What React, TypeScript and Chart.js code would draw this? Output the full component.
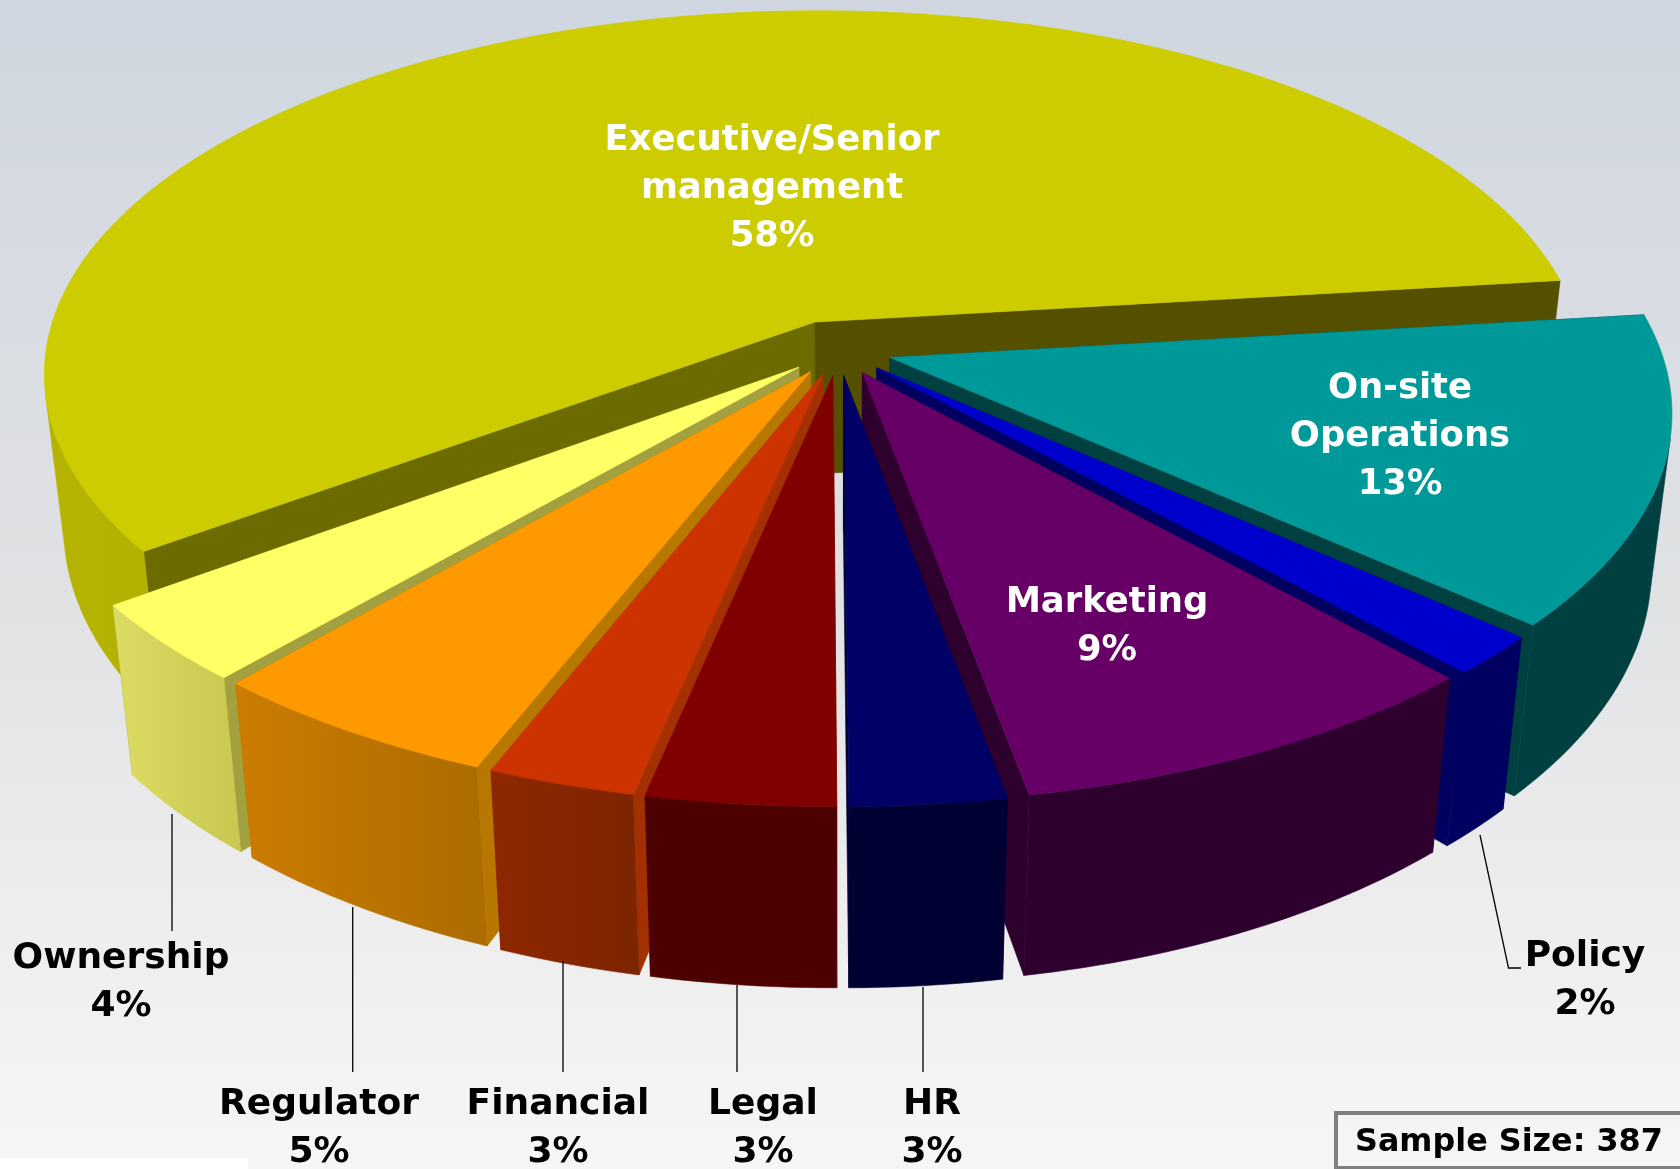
import React, { useEffect, useRef } from "react";
import { Chart, registerables } from "chart.js";

Chart.register(...registerables);

const categories = ["Executive/Senior management", "On-site Operations", "Policy", "Marketing", "HR", "Legal", "Financial", "Regulator", "Ownership"];
const shares = [58.2, 13.47, 1.71, 8.84, 2.8, 3.4, 2.67, 5.4, 3.5];
const sampleSize = 387;
const topColors = ["#CCCC00", "#009999", "#0000CC", "#660066", "#000066", "#800000", "#CC3300", "#FF9900", "#FFFF66"];
const rimLeftColors = ["#B5B300", "#004040", "#000060", "#2E002E", "#000033", "#4D0000", "#8E2700", "#CB7C00", "#DCDC64"];
const rimRightColors = ["#A8A600", "#004040", "#000060", "#2E002E", "#000033", "#4D0000", "#7C2500", "#AC6C00", "#C8C850"];
const cutStartColors = ["#6B6B00", "#004040", "#000060", "#2E002E", "#000033", "#A33000", "#A33000", "#B87800", "#A3A040"];
const cutEndColors = ["#545000", "#004040", "#000060", "#2E002E", "#000033", "#A33000", "#A33000", "#B87800", "#A3A040"];
const explodeOffsets = [47, 39, 39, 39, 39, 39, 39, 39, 39];
const paintOrder = [0, 1, 2, 3, 8, 7, 6, 4, 5];

// camera used to lay the pie on its plane
const cam = { cx: 838.5, cy: 350, a: 771, b: 362.6, k: 0.141, m: 0.025, b2: 374, c: 157.7 };
const project = (e: number, n: number, z: number): [number, number] => {
  const w = 1 + cam.k * n + cam.m * z;
  const b = z ? cam.b2 : cam.b;
  return [cam.cx + (cam.a * e) / w, cam.cy + (-b * n + cam.c * z) / w];
};

const FONT = '"DejaVu Sans", Verdana, sans-serif';

type Lbl = { lines: string[]; x: number; y: number; color: string; size: number };
const labelLayout: Lbl[] = [
  { lines: ["Executive/Senior", "management"], x: 772, y: 141, color: "#fff", size: 35.4 },
  { lines: ["On-site", "Operations"], x: 1400, y: 388.5, color: "#fff", size: 35.4 },
  { lines: ["Policy"], x: 1585, y: 957, color: "#000", size: 36 },
  { lines: ["Marketing"], x: 1107, y: 603, color: "#fff", size: 35.4 },
  { lines: ["HR"], x: 932, y: 1104.5, color: "#000", size: 36 },
  { lines: ["Legal"], x: 763, y: 1104.5, color: "#000", size: 36 },
  { lines: ["Financial"], x: 558, y: 1104.5, color: "#000", size: 36 },
  { lines: ["Regulator"], x: 319, y: 1104.5, color: "#000", size: 36 },
  { lines: ["Ownership"], x: 121, y: 959, color: "#000", size: 36 },
];
const leaders: [number, number][][] = [
  [[172, 814], [172, 931]],
  [[352.7, 907], [352.7, 1072]],
  [[563, 961], [563, 1072]],
  [[737, 985], [737, 1072]],
  [[923, 987], [923, 1072]],
  [[1480, 835], [1508.5, 968], [1521, 968]],
];

const pie3d = {
  id: "pie3d",
  beforeDraw(chart: any) {
    const { ctx, width, height } = chart;
    const g = ctx.createLinearGradient(0, 0, 0, height);
    g.addColorStop(0, "#CFD6DF");
    g.addColorStop(0.25, "#D8DCE2");
    g.addColorStop(0.5, "#E0E1E3");
    g.addColorStop(0.75, "#ECECED");
    g.addColorStop(1, "#F6F6F6");
    ctx.fillStyle = g;
    ctx.fillRect(0, 0, width, height);
    ctx.fillStyle = "#FFFFFF";
    ctx.fillRect(0, 1158, 248, 11);
  },
  beforeDatasetsDraw(chart: any) {
    const ctx: CanvasRenderingContext2D = chart.ctx;
    const arcs = chart.getDatasetMeta(0).data;
    const fill = (pts: [number, number][], style: any) => {
      ctx.beginPath();
      pts.forEach((p, i) => (i ? ctx.lineTo(p[0], p[1]) : ctx.moveTo(p[0], p[1])));
      ctx.closePath();
      ctx.fillStyle = style;
      ctx.fill();
      ctx.strokeStyle = style;
      ctx.lineWidth = 0.6;
      ctx.stroke();
    };
    const signedArea = (q: [number, number][]) =>
      q.reduce((acc, p, i) => {
        const n = q[(i + 1) % q.length];
        return acc + p[0] * n[1] - n[0] * p[1];
      }, 0);
    for (const i of paintOrder) {
      const arc = arcs[i];
      const { startAngle, endAngle, outerRadius } = arc;
      const mid = (startAngle + endAngle) / 2;
      const ex = arc.options.offset / outerRadius;
      const ox = Math.cos(mid) * ex;
      const oy = -Math.sin(mid) * ex;
      const steps = Math.max(8, Math.round(((endAngle - startAngle) * 180) / Math.PI));
      const rim: [number, number][] = [];
      for (let s = 0; s <= steps; s++) {
        const a = startAngle + ((endAngle - startAngle) * s) / steps;
        rim.push([Math.cos(a) + ox, -Math.sin(a) + oy]);
      }
      const apexTop = project(ox, oy, 0);
      const apexBot = project(ox, oy, 1);
      const top = rim.map((p) => project(p[0], p[1], 0));
      const bottom = rim.map((p) => project(p[0], p[1], 1));
      fill([apexTop, top[0], bottom[0], apexBot], cutStartColors[i]);
      fill([apexTop, top[steps], bottom[steps], apexBot], cutEndColors[i]);
      const xs = top.concat(bottom).map((p) => p[0]);
      const grad = ctx.createLinearGradient(Math.min(...xs), 0, Math.max(...xs), 0);
      grad.addColorStop(0, rimLeftColors[i]);
      grad.addColorStop(1, rimRightColors[i]);
      // the viewer-facing run of the rim, as one polygon so that no seams show
      let runStart = -1;
      const flush = (end: number) => {
        if (runStart < 0) return;
        const t = top.slice(runStart, end + 1);
        const b = bottom.slice(runStart, end + 1).reverse();
        fill(t.concat(b), grad);
        runStart = -1;
      };
      for (let s = 0; s < steps; s++) {
        const quad: [number, number][] = [top[s], top[s + 1], bottom[s + 1], bottom[s]];
        if (signedArea(quad) < 0) {
          if (runStart < 0) runStart = s;
        } else {
          flush(s);
        }
      }
      flush(steps);
      fill([apexTop, ...top], topColors[i]);
    }
    return false;
  },
  afterDraw(chart: any) {
    const ctx: CanvasRenderingContext2D = chart.ctx;
    ctx.strokeStyle = "#000";
    ctx.lineWidth = 1.3;
    for (const l of leaders) {
      ctx.beginPath();
      l.forEach((p, i) => (i ? ctx.lineTo(p[0], p[1]) : ctx.moveTo(p[0], p[1])));
      ctx.stroke();
    }
    ctx.textAlign = "center";
    ctx.textBaseline = "middle";
    const lh = 48;
    labelLayout.forEach((l, i) => {
      ctx.font = `bold ${l.size}px ${FONT}`;
      ctx.fillStyle = l.color;
      const lines = [...l.lines, `${Math.round(shares[i])}%`];
      lines.forEach((t, j) => ctx.fillText(t, l.x, l.y + j * lh));
    });
    ctx.lineWidth = 4;
    ctx.strokeStyle = "#808080";
    ctx.strokeRect(1336, 1113, 360, 55);
    ctx.fillStyle = "#000";
    ctx.textAlign = "left";
    ctx.font = `bold 31.8px ${FONT}`;
    ctx.fillText(`Sample Size: ${sampleSize}`, 1355, 1143);
  },
};

export default function App() {
  const ref = useRef<HTMLCanvasElement>(null);
  useEffect(() => {
    document.body.style.margin = "0";
    const chart = new Chart(ref.current!, {
      type: "pie",
      data: {
        labels: categories,
        datasets: [{ data: shares, backgroundColor: topColors, offset: explodeOffsets, borderWidth: 0 }],
      },
      options: {
        responsive: false,
        animation: false,
        rotation: 233.6,
        plugins: { legend: { display: false }, tooltip: { enabled: false } },
      },
      plugins: [pie3d],
    } as any);
    return () => chart.destroy();
  }, []);
  return <canvas ref={ref} width={1680} height={1169} style={{ display: "block" }} />;
}
